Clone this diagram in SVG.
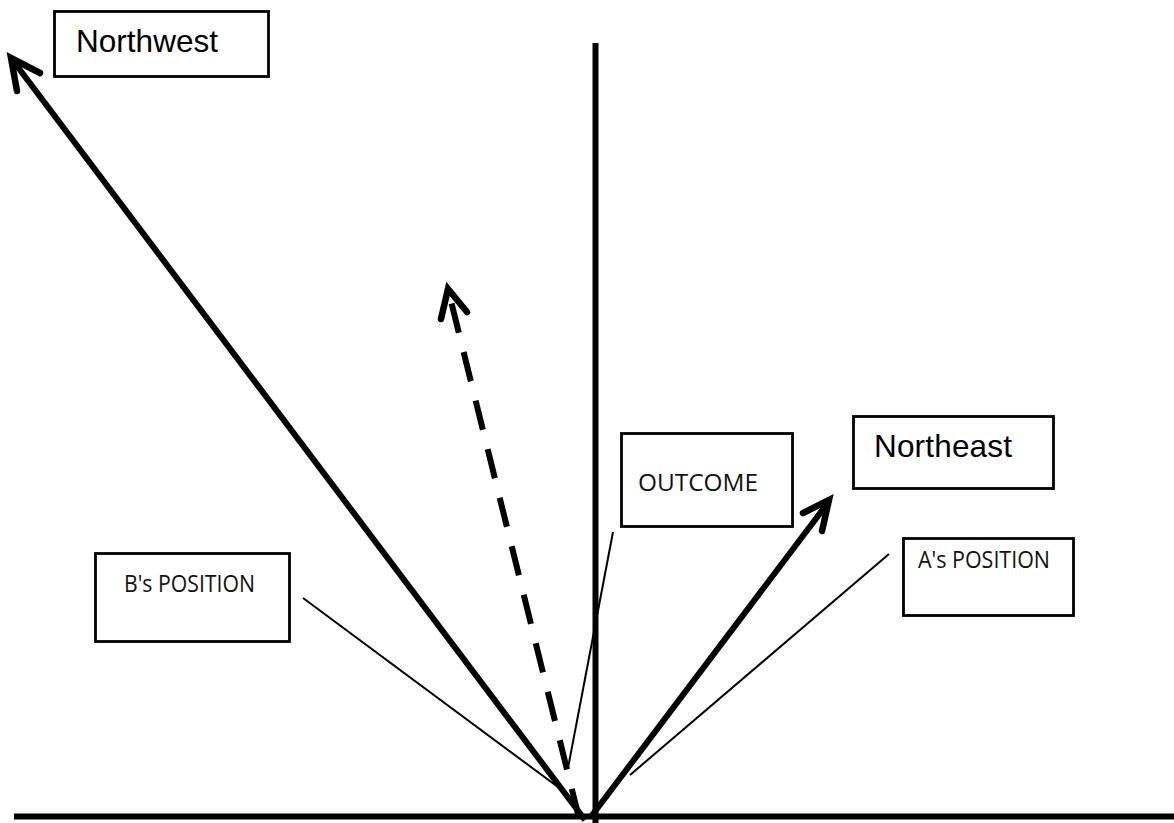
<svg xmlns="http://www.w3.org/2000/svg" width="1174" height="823" viewBox="0 0 1174 823">
<style>
.box{fill:#fff;stroke:#000;stroke-width:2.8}
.big{font-family:"Liberation Sans",Arial,sans-serif;font-size:31.5px;fill:#000}
.small{font-family:"Open Sans","Liberation Sans",sans-serif;font-size:23px;fill:#111}
.thick{stroke:#000;stroke-width:6;fill:none;stroke-linecap:butt}
.head{stroke:#000;stroke-width:6.5;fill:none;stroke-linecap:round;stroke-linejoin:miter}
.thin{stroke:#000;stroke-width:2;fill:none}
</style>
<rect width="1174" height="823" fill="#fff"/>
<g id="connectors">
<line class="thick" x1="14" y1="816.5" x2="1174" y2="816.5" stroke-width="7"/>
<line class="thick" x1="595.5" y1="43" x2="595.5" y2="823" stroke-width="6.5"/>
<line class="thick" x1="585" y1="820" x2="14" y2="62"/>
<polyline class="head" points="40,73 11,58 17,91"/>
<line class="thick" x1="590" y1="818" x2="827" y2="504"/>
<polyline class="head" points="803,513 829,500 822,531"/>
<line class="thick" x1="579" y1="818" x2="449" y2="293" stroke-dasharray="30 20"/>
<polyline class="head" points="441,319 448,289 467,312"/>
<line class="thin" x1="613" y1="532" x2="568" y2="768"/>
<line class="thin" x1="889" y1="554" x2="630" y2="775"/>
<line class="thin" x1="303" y1="598" x2="562" y2="790"/>
</g>
<g id="northwest">
<rect class="box" x="54.5" y="11.5" width="214" height="65"/>
<text class="big" x="76" y="52" textLength="142">Northwest</text>
</g>
<g id="northeast">
<rect class="box" x="853.5" y="416.5" width="200" height="72" stroke="#555" stroke-width="1.5"/>
<text class="big" x="874" y="457" textLength="138">Northeast</text>
</g>
<g id="outcome">
<rect class="box" x="621.5" y="433.5" width="171" height="93"/>
<text class="small" x="638" y="491" textLength="120" lengthAdjust="spacingAndGlyphs">OUTCOME</text>
</g>
<g id="a-position">
<rect class="box" x="903.5" y="538.5" width="170" height="77"/>
<text class="small" x="918" y="568" textLength="132" lengthAdjust="spacingAndGlyphs">A's POSITION</text>
</g>
<g id="b-position">
<rect class="box" x="95.5" y="553.5" width="194" height="88"/>
<text class="small" x="124" y="592" textLength="131" lengthAdjust="spacingAndGlyphs">B's POSITION</text>
</g>
</svg>
